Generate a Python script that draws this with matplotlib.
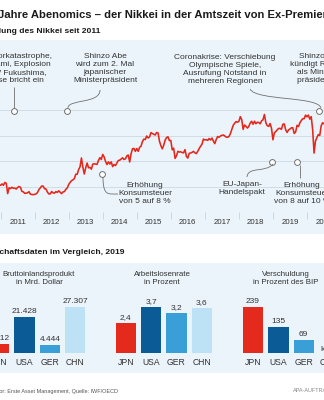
import matplotlib
matplotlib.use("Agg")
import matplotlib.pyplot as plt
from matplotlib.patches import Rectangle, PathPatch
from matplotlib.path import Path

plt.rcParams['font.family'] = ['Liberation Sans', 'DejaVu Sans']

# ---------------- data ----------------
# Nikkei 225, mid-month and month-end values
nikkei_2010 = [9500, 9202, 9800, 9937, 10300, 10229]  # Oct-Dec
nikkei_2011 = [10500, 10238, 10800, 10624, 8605, 9755, 9600, 9850, 9650, 9694, 9500, 9816,
               10000, 9833, 9050, 8955, 8650, 8700, 8750, 8988, 8500, 8434, 8400, 8455]
nikkei_2012 = [8550, 8803, 9400, 9723, 10100, 10084, 9550, 9521, 8900, 8543, 8550, 9007,
               8750, 8695, 9000, 8840, 9150, 8870, 8600, 8928, 9000, 9446, 9700, 10395]
nikkei_2013 = [10800, 11139, 11300, 11559, 12400, 12398, 13300, 13861, 15600, 13775, 12445, 13677,
               14600, 13668, 13750, 13389, 14400, 14456, 14400, 14328, 15100, 15662, 15300, 16291]
nikkei_2014 = [15800, 14915, 14300, 14841, 14400, 14828, 13900, 14304, 14100, 14632, 15100, 15162,
               15400, 15621, 15300, 15425, 16000, 16174, 14800, 16414, 17400, 17460, 16900, 17451]
nikkei_2015 = [16900, 17674, 17900, 18798, 19300, 19207, 19900, 19520, 19700, 20563, 20400, 20236,
               20100, 20585, 20500, 18890, 18000, 17388, 18100, 19083, 19600, 19747, 19000, 19034]
nikkei_2016 = [17200, 17518, 15500, 16027, 16900, 16759, 16800, 16666, 16600, 17235, 15900, 15576,
               16500, 16569, 16700, 16887, 16600, 16450, 16900, 17425, 17900, 18308, 19300, 19114]
nikkei_2017 = [19200, 19041, 19400, 19119, 19500, 18909, 18400, 19197, 19800, 19651, 19900, 20033,
               20100, 19925, 19700, 19646, 19800, 20356, 21200, 22012, 22400, 22725, 22600, 22765]
nikkei_2018 = [23700, 23098, 21200, 22068, 21800, 21454, 21800, 22468, 22800, 22202, 22800, 22305,
               22600, 22554, 22300, 22865, 23100, 24120, 22500, 21920, 21800, 22351, 21400, 19155]
nikkei_2019 = [20500, 20773, 21100, 21385, 21400, 21206, 22200, 22259, 21100, 20601, 21100, 21276,
               21500, 21522, 20400, 20704, 22000, 21756, 22500, 22927, 23300, 23294, 24000, 23657]
nikkei_2020 = [24000, 23205, 23700, 21143, 16553, 18917, 19600, 20194, 20000, 21878, 22500, 22288,
               22700, 21710, 23100, 23140]  # Jan-Aug

year_labels = ["2011", "2012", "2013", "2014", "2015", "2016", "2017", "2018", "2019", "2020"]
grid_levels = [5000, 10000, 15000, 20000, 25000]

# annotation events: date (fractional year), level of marker, text
event_dates = [2011.39, 2012.96, 2013.98, 2018.98, 2019.70, 2020.34]
event_levels = [24800, 24800, 12450, 14800, 14800, 24800]
event_texts = [
    "Reaktorkatastrophe,\nTsunami, Explosion\nAKW Fukushima,\nBörse bricht ein",
    "Shinzo Abe\nwird zum 2. Mal\njapanischer\nMinisterpräsident",
    "Erhöhung\nKonsumsteuer\nvon 5 auf 8 %",
    "EU-Japan-\nHandelspakt",
    "Erhöhung\nKonsumsteuer\nvon 8 auf 10 %",
    "Coronakrise: Verschiebung\nOlympische Spiele,\nAusrufung Notstand in\nmehreren Regionen",
]
extra_text = "Shinzo Abe\nkündigt Rücktritt\nals Minister-\npräsident an"

categories = ["JPN", "USA", "GER", "CHN"]
gdp = [5412, 21428, 4444, 27307]
gdp_labels = ["5.412", "21.428", "4.444", "27.307"]
unemp = [2.4, 3.7, 3.2, 3.6]
unemp_labels = ["2,4", "3,7", "3,2", "3,6"]
debt = [239, 135, 69, None]
debt_labels = ["239", "135", "69", "k. A."]

# ---------------- style ----------------
W, H = 324.0, 400.0
PANEL = '#ebf4fb'
GRID = '#cbd8e3'
RED = '#e5261b'
TXT = '#333333'
LINEC = '#707070'
bar_colors = ['#e42a1d', '#0b5b96', '#3a9fd7', '#bde2f6']

fig = plt.figure(figsize=(3.24, 4.0), dpi=100)
fig.patch.set_facecolor('white')


def F(x, y):
    return (x / W, 1 - y / H)


for top, bot in [(40, 234), (263, 373)]:
    fig.add_artist(Rectangle((0, 1 - bot / H), 1, (bot - top) / H, transform=fig.transFigure,
                             facecolor=PANEL, edgecolor='none', zorder=0))

fig.text(*F(-1.5, 18), "Jahre Abenomics – der Nikkei in der Amtszeit von Ex-Premier Abe",
         fontsize=8.1, fontweight='bold', ha='left', va='baseline', color='#1a1a1a')
fig.text(*F(100, 33), "Entwicklung des Nikkei seit 2011", fontsize=6.1, fontweight='bold',
         ha='right', va='baseline', color='#1a1a1a')
fig.text(*F(125, 254.5), "Wirtschaftsdaten im Vergleich, 2019", fontsize=6.1, fontweight='bold',
         ha='right', va='baseline', color='#1a1a1a')

# ---------------- line chart ----------------
series = [(2010, 10, nikkei_2010), (2011, 1, nikkei_2011), (2012, 1, nikkei_2012),
          (2013, 1, nikkei_2013), (2014, 1, nikkei_2014), (2015, 1, nikkei_2015),
          (2016, 1, nikkei_2016), (2017, 1, nikkei_2017), (2018, 1, nikkei_2018),
          (2019, 1, nikkei_2019), (2020, 1, nikkei_2020)]
t, v = [], []
for yr, m0, vals in series:
    for i, val in enumerate(vals):
        month = m0 - 1 + i // 2
        t.append(yr + (month + (0.5 if i % 2 == 0 else 1.0)) / 12)
        v.append(val)

X0_PX, YEAR_PX = 0.6, 34.4
AX_TOP, AX_BOT = 40, 212
PX_PER_K = 5.1
ax = fig.add_axes([0, 1 - AX_BOT / H, 1, (AX_BOT - AX_TOP) / H])
ax.set_xlim(2011 - X0_PX / YEAR_PX, 2011 + (W - X0_PX) / YEAR_PX)
ax.set_ylim(grid_levels[0], grid_levels[0] + (AX_BOT - AX_TOP) / PX_PER_K * 1000)
ax.patch.set_visible(False)
for s in ax.spines.values():
    s.set_visible(False)
ax.set_yticks(grid_levels)
ax.yaxis.grid(True, color=GRID, lw=0.6)
ax.tick_params(axis='y', length=0, labelleft=False)
ax.set_xticks([2011.5 + k for k in range(len(year_labels))])
ax.set_xticklabels(year_labels, fontsize=5.7, color=TXT)
ax.tick_params(axis='x', which='major', length=0, pad=5.4)
ax.set_xticks([2011 + k for k in range(len(year_labels))], minor=True)
ax.tick_params(axis='x', which='minor', length=5, color=GRID, width=0.7)
ax.plot(t, v, color=RED, lw=1.15, zorder=3)
ax.plot(event_dates, event_levels, 'o', ms=4.2, mfc='white', mec=LINEC, mew=0.7,
        zorder=5, clip_on=False)

text_pos = [(14, 69), (105, 69), (145, 193.5), (242, 188.5), (302, 193.5), (225, 69.5)]
for txt, (x, y) in zip(event_texts, text_pos):
    fig.text(*F(x, y), txt, ha='center', va='center', fontsize=6.0, color=TXT, linespacing=1.2)
fig.text(*F(320, 69), extra_text, ha='center', va='center', fontsize=6.0, color=TXT, linespacing=1.2)

connectors = [
    [(14, 108), (14, 87)],
    [(68, 108), (68, 99), (100, 104), (100, 90)],
    [(103, 177), (103, 196), (108, 194), (118, 194)],
    [(273, 164), (266, 173), (248, 166), (247, 177)],
    [(300, 165), (300, 178)],
    [(250, 89), (256, 101), (318, 96), (321, 108)],
]
for pts in connectors:
    verts = [F(x, y) for x, y in pts]
    codes = [Path.MOVETO] + ([Path.CURVE4] * 3 if len(pts) == 4 else [Path.LINETO])
    fig.add_artist(PathPatch(Path(verts, codes), transform=fig.transFigure, fill=False,
                             edgecolor=LINEC, lw=0.6, zorder=4))

# ---------------- bar charts ----------------
groups = [
    (gdp, gdp_labels, "Bruttoinlandsprodukt\nin Mrd. Dollar", -13.6, 39),
    (unemp, unemp_labels, "Arbeitslosenrate\nin Prozent", 113.0, 162),
    (debt, debt_labels, "Verschuldung\nin Prozent des BIP", 240.3, 286),
]
BAR_BOT, BAR_TOP = 353, 300
for vals, labs, title, left, tcx in groups:
    bax = fig.add_axes([left / W, 1 - BAR_BOT / H, 101.5 / W, (BAR_BOT - BAR_TOP) / H])
    vmax = max(x for x in vals if x is not None)
    bax.set_xlim(-0.5, 3.5)
    bax.set_ylim(0, vmax * 1.15)
    heights = [x if x is not None else 0 for x in vals]
    bax.bar(range(len(categories)), heights, width=0.8, color=bar_colors)
    for i, (val, lab) in enumerate(zip(vals, labs)):
        bax.annotate(lab, (i, val if val is not None else 0), xytext=(0, 1.5 if val is not None else 0),
                     textcoords='offset points', ha='center', va='bottom', fontsize=6.0,
                     color=TXT, annotation_clip=False)
    bax.set_xticks(range(len(categories)))
    bax.set_xticklabels(categories, fontsize=6.2, color=TXT)
    bax.tick_params(axis='x', length=0, pad=3.5)
    bax.set_yticks([])
    bax.patch.set_visible(False)
    for s in bax.spines.values():
        s.set_visible(False)
    fig.text(*F(tcx, 279), title, ha='center', va='center', fontsize=5.7, color=TXT)

fig.text(*F(118, 391), "Indikator: Erste Asset Management, Quelle: IWF/OECD", ha='right',
         va='center', fontsize=4.0, color='#555555')
fig.text(*F(293, 391), "APA-AUFTRAGSGRAFIK", ha='left', va='center', fontsize=4.0, color='#8a8a8a')

fig.savefig('out.png', dpi=100)
